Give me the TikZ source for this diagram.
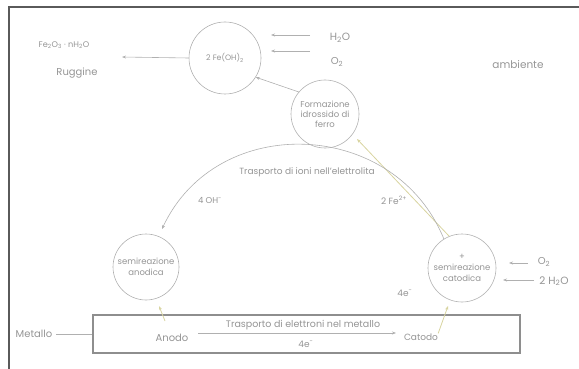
\documentclass[tikz,border=0pt]{standalone}
\usepackage{fontspec}
\setmainfont{Poppins}
\usetikzlibrary{arrows.meta}
\definecolor{txt}{HTML}{959595}
\definecolor{ln}{HTML}{B0B0B0}
\definecolor{yl}{HTML}{D8D4A0}
\definecolor{framec}{HTML}{5A5A5A}
\definecolor{boxc}{HTML}{8E8E8E}
\newcommand{\fsz}[1]{\fontsize{#1}{#1}\selectfont}
\begin{document}
\begin{tikzpicture}[x=1pt,y=-1pt,
 lbl/.style={text=txt,font=\fsz{9},inner sep=0pt,align=center},
 circ/.style={circle,draw=ln,line width=0.6pt,text=txt,font=\fontsize{8.5}{10.5}\selectfont,align=center,inner sep=0pt},
 arr/.style={draw=ln,line width=0.6pt,-{Stealth[length=4pt,width=3pt]}},
 yarr/.style={draw=yl,line width=0.8pt,-{Stealth[length=4pt,width=3pt]}},
]
\useasboundingbox (0,0) rectangle (579,369);
\draw[framec, line width=1.2pt] (9,369) -- (9,7) -- (579,7);

% circles
\node[circ,minimum size=72pt,font=\fsz{7.8}] (fe) at (225,58) {2 Fe(OH)\textsubscript{2}};
\node[circ,minimum size=68pt,font=\fontsize{8.5}{10}\selectfont] (form) at (325,114) {Formazione\\idrossido di\\ferro};
\node[circ,minimum size=66pt] (an) at (146,267) {semireazione\\anodica};
\node[circ,minimum size=68pt,font=\fontsize{8.5}{11}\selectfont] (cat) at (462,268) {+\\semireazione\\catodica};

% metal box
\node[draw=boxc,line width=1.1pt,minimum width=427pt,minimum height=38pt,inner sep=0pt] (box) at (306.5,334) {};
\node[lbl,font=\fsz{10}] (metallo) at (34,334) {Metallo};
\node[lbl,font=\fsz{10}] (anodo) at (172,338) {Anodo};
\node[lbl] (catodo) at (421,337) {Catodo};
\node[lbl,font=\fsz{9.5}] (eltxt) at (303,325) {Trasporto di elettroni nel metallo};
\node[lbl] (e4a) at (306,344) {4e\textsuperscript{-}};
\node[lbl] (e4b) at (405,293) {4e\textsuperscript{-}};

% labels
\node[lbl,font=\fsz{8.2}] (rug1) at (64,45) {Fe\textsubscript{2}O\textsubscript{3} · nH\textsubscript{2}O};
\node[lbl,font=\fsz{10}] (rug2) at (77,73) {Ruggine};
\node[lbl,font=\fsz{10.5}] (h2o) at (340,38) {H\textsubscript{2}O};
\node[lbl,font=\fsz{10}] (o2t) at (337,62) {O\textsubscript{2}};
\node[lbl,font=\fsz{10.5}] (amb) at (518,65) {ambiente};
\node[lbl] (ioni) at (307,172) {Trasporto di ioni nell'elettrolita};
\node[lbl,font=\fsz{8.5}] (oh) at (210,200) {4 OH\textsuperscript{-}};
\node[lbl] (fe2) at (394,200) {2 Fe\textsuperscript{2+}};
\node[lbl,font=\fsz{10}] (o2r) at (544,262) {O\textsubscript{2}};
\node[lbl,font=\fsz{10.5}] (h2or) at (554,281) {2 H\textsubscript{2}O};

% coordinates
\coordinate (rugend) at (122,57);
\coordinate (h1s) at (310,35);
\coordinate (h1e) at (271,35);
\coordinate (o1s) at (310,51);
\coordinate (o1e) at (271,51);
\coordinate (ionend) at (162,229);
\coordinate (a1) at (165,321);
\coordinate (a2) at (159,306);
\coordinate (c2) at (448,306);
\coordinate (el1) at (198,333);
\coordinate (el2) at (396,333);
\coordinate (o2s) at (528,263);
\coordinate (o2e) at (509,263);
\coordinate (h2s) at (534,280);
\coordinate (h2e) at (503,280);
\coordinate (formtip) at (357,139);

% connectors
\draw[arr] (fe.west) -- (rugend);
\draw[arr] (h1s) -- (h1e);
\draw[arr] (o1s) -- (o1e);
\draw[arr] (form.140) -- (fe.-32);
\draw[yarr] (cat.112) -- (formtip);
\draw[arr] (cat.122) .. controls +(-112:130) and +(-65:130) .. (ionend);
\draw[yarr] (a1) -- (a2);
\draw[yarr] (catodo.north east) -- (c2);
\draw[arr] (el1) -- (el2);
\draw[arr] (o2s) -- (o2e);
\draw[arr] (h2s) -- (h2e);
\draw[ln,line width=0.6pt] (metallo.east) ++(4,0) -- (box.west);
\end{tikzpicture}
\end{document}
